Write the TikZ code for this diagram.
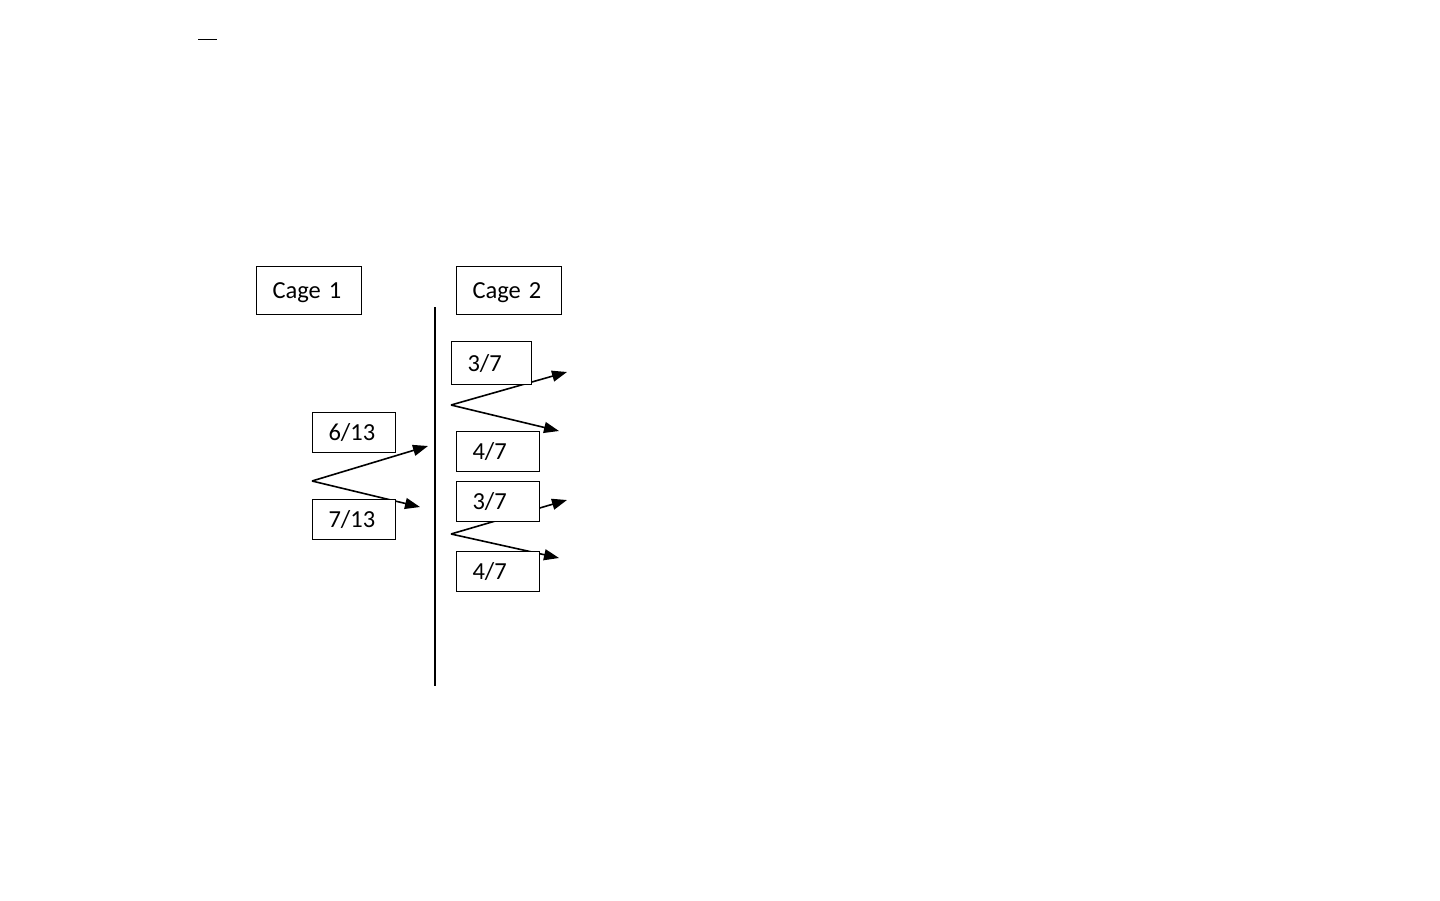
\documentclass[tikz,border=0pt]{standalone}
\usepackage{fontspec}
\setmainfont{Carlito}
\usetikzlibrary{arrows.meta}
\newcommand{\lblfont}{\fontsize{24.5}{28}\selectfont\spaceskip=4pt plus 1pt\relax}
\begin{document}
\begin{tikzpicture}[x=1pt,y=-1pt,
  lbl/.style={draw=black,fill=white,line width=1pt,rectangle,anchor=north west,
    inner xsep=16pt,inner ysep=0pt,align=left,text height=20pt,text depth=4pt,
    font=\lblfont},
  arr/.style={line width=1.6pt,-{Triangle[length=15pt,width=11pt]}},
  divider/.style={line width=2pt}]
\useasboundingbox (0,0) rectangle (1440,900);
% small mark at top
\coordinate (m1) at (198,39);
\coordinate (m2) at (217,39);
\draw[line width=1pt] (m1) -- (m2);
% divider
\coordinate (d1) at (435,307);
\coordinate (d2) at (435,686);
\draw[divider] (d1) -- (d2);
% arrow vertices and ends
\coordinate (v1) at (312,481);
\coordinate (e1a) at (428,446);
\coordinate (e1b) at (420,507);
\coordinate (v2) at (451,405);
\coordinate (e2a) at (567,372);
\coordinate (e2b) at (559,431);
\coordinate (v3) at (451,534);
\coordinate (e3a) at (567,500);
\coordinate (e3b) at (559,558);
\draw[arr] (v1) -- (e1a);
\draw[arr] (v1) -- (e1b);
\draw[arr] (v2) -- (e2a);
\draw[arr] (v2) -- (e2b);
\draw[arr] (v3) -- (e3a);
\draw[arr] (v3) -- (e3b);
% boxes
\node[lbl,text width=73pt,minimum height=48pt] (cage1) at (256,266) {Cage 1};
\node[lbl,text width=73pt,minimum height=48pt] (cage2) at (456,266) {Cage 2};
\node[lbl,text width=51pt,minimum height=40pt] (a613) at (312,412) {6/13};
\node[lbl,text width=51pt,minimum height=40pt] (a713) at (312,499) {7/13};
\node[lbl,text width=48pt,minimum height=43pt] (b37a) at (451,341) {3/7};
\node[lbl,text width=51pt,minimum height=40pt] (b47a) at (456,431) {4/7};
\node[lbl,text width=51pt,minimum height=40pt] (b37b) at (456,481) {3/7};
\node[lbl,text width=51pt,minimum height=40pt] (b47b) at (456,551) {4/7};
\end{tikzpicture}
\end{document}
